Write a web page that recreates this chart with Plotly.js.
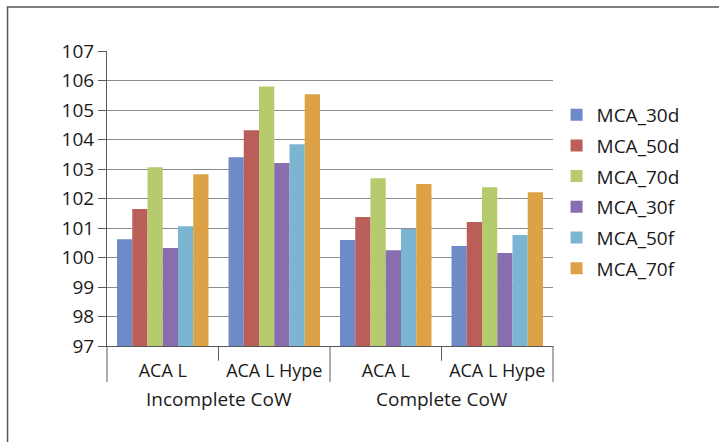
<!DOCTYPE html>
<html>
<head>
<meta charset="utf-8">
<script src="https://cdn.plot.ly/plotly-3.0.1.min.js"></script>
<style>
  html, body { margin: 0; padding: 0; background: #fff; }
  #chart { width: 719px; height: 442px; }
</style>
</head>
<body>
<div id="chart"></div>
<script>
// Group (outer) and sub-category (inner) labels for the x axis
const groups = ["Incomplete CoW", "Incomplete CoW", "Complete CoW", "Complete CoW"];
const sites = ["ACA L", "ACA L Hype", "ACA L", "ACA L Hype"];

// Series
const seriesNames = ["MCA_30d", "MCA_50d", "MCA_70d", "MCA_30f", "MCA_50f", "MCA_70f"];
const mca30d = [100.62, 103.40, 100.59, 100.39];
const mca50d = [101.64, 104.31, 101.37, 101.20];
const mca70d = [103.06, 105.80, 102.69, 102.38];
const mca30f = [100.32, 103.20, 100.25, 100.15];
const mca50f = [101.06, 103.84, 100.97, 100.76];
const mca70f = [102.82, 105.53, 102.49, 102.21];

const yTicks = [97, 98, 99, 100, 101, 102, 103, 104, 105, 106, 107];

const seriesValues = [mca30d, mca50d, mca70d, mca30f, mca50f, mca70f];
const colors = ["#6d8bc8", "#b95e59", "#b5cb6d", "#886eae", "#7cb5d1", "#dea246"];

const FONT = "Open Sans, Noto Sans, sans-serif";
const INK = "#1a1a1a";
const AXIS = "#5a5a5a";

// unique category keys (group + site), shown with the site name only
const xKeys = groups.map((g, i) => g + " / " + sites[i]);

const traces = seriesNames.map((name, i) => ({
  type: "bar",
  name: name,
  x: xKeys,
  y: seriesValues[i],
  marker: { color: colors[i], line: { width: 0 } },
  legendgroup: name
}));

// group labels centred under their sites
const groupNames = [...new Set(groups)];
const groupAnnotations = groupNames.map(g => {
  const idx = groups.map((v, i) => (v === g ? i : -1)).filter(i => i >= 0);
  const mid = (idx[0] + idx[idx.length - 1]) / 2;
  return {
    x: mid, xref: "x",
    y: -0.18, yref: "paper",
    yanchor: "middle",
    text: g,
    showarrow: false,
    font: { family: FONT, size: 19, color: INK }
  };
});

// vertical separators below the axis: long at group edges, short between sites
const sepLong = [0, 0.5, 1].map(px => ({
  type: "line", xref: "paper", yref: "paper",
  x0: px, x1: px, y0: 0, y1: -0.122,
  line: { color: AXIS, width: 1 }
}));
const sepShort = [0.25, 0.75].map(px => ({
  type: "line", xref: "paper", yref: "paper",
  x0: px, x1: px, y0: 0, y1: -0.05,
  line: { color: AXIS, width: 1 }
}));

const layout = {
  width: 719,
  height: 442,
  margin: { l: 107, r: 166, t: 51, b: 96 },
  paper_bgcolor: "#ffffff",
  plot_bgcolor: "#ffffff",
  barmode: "group",
  bargap: 0.18,
  bargroupgap: 0,
  font: { family: FONT, color: INK, size: 17 },
  showlegend: true,
  legend: {
    x: 1.008, xanchor: "left",
    y: 0.848, yanchor: "top",
    font: { family: FONT, size: 19, color: INK },
    tracegroupgap: 3,
    itemclick: false,
    itemdoubleclick: false,
    bgcolor: "rgba(0,0,0,0)"
  },
  xaxis: {
    type: "category",
    tickvals: xKeys,
    ticktext: sites,
    showline: true,
    linecolor: AXIS,
    linewidth: 1,
    ticks: "",
    ticklabelstandoff: 8,
    tickfont: { family: FONT, size: 18, color: INK },
    showgrid: false,
    zeroline: false
  },
  yaxis: {
    range: [97, 107],
    tickvals: yTicks,
    showline: true,
    linecolor: AXIS,
    linewidth: 1,
    ticks: "outside",
    ticklen: 8,
    tickcolor: AXIS,
    showgrid: true,
    gridcolor: "#8c8c8c",
    gridwidth: 1,
    zeroline: false,
    tickfont: { family: FONT, size: 19, color: INK }
  },
  annotations: groupAnnotations,
  shapes: [
    // chart-area frame (left and top edges)
    {
      type: "path",
      xref: "paper", yref: "paper",
      path: "M -0.223 -0.5 L -0.223 1.149 L 1.5 1.149",
      line: { color: "#555555", width: 1.5 }
    }
  ].concat(sepLong, sepShort)
};

Plotly.newPlot("chart", traces, layout, { displayModeBar: false, staticPlot: true });
</script>
</body>
</html>
